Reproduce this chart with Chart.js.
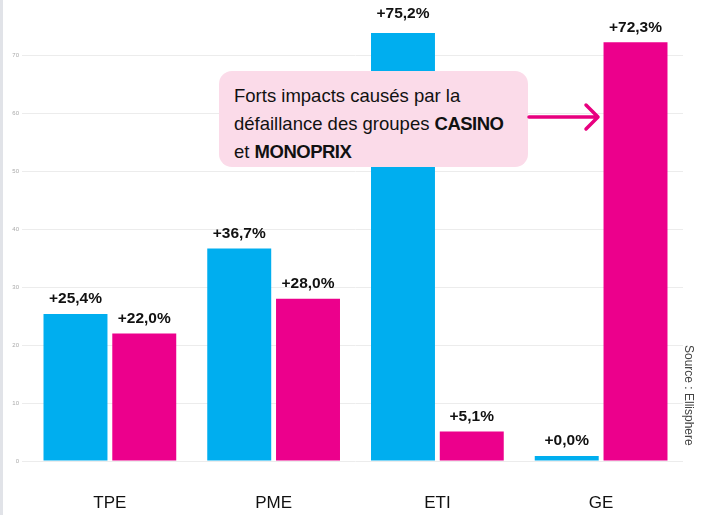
<!DOCTYPE html>
<html><head><meta charset="utf-8">
<script src="https://cdn.jsdelivr.net/npm/chart.js@4"></script>
<style>
html,body{margin:0;padding:0;background:#fff;}
#wrap{position:relative;width:705px;height:515px;overflow:hidden;}
#strip{position:absolute;left:0;top:0;width:3px;height:515px;background:#e1e3e8;}
#note{position:absolute;left:219px;top:71px;width:309px;height:96px;box-sizing:border-box;background:#fbdbe9;border-radius:13px;padding:11px 0 0 15px;font-family:"Liberation Sans",Arial,sans-serif;font-size:18.5px;line-height:28px;color:#111;}
#note b{font-weight:bold;letter-spacing:-0.5px;}
#src{position:absolute;left:682px;top:345px;writing-mode:vertical-rl;font-family:"Liberation Sans",Arial,sans-serif;font-size:12px;color:#444;}
#arrow{position:absolute;left:526px;top:100px;}
</style></head>
<body>
<div id="wrap">
<canvas id="c" width="705" height="515"></canvas>
<div id="strip"></div>
<div id="note">Forts impacts causés par la<br>défaillance des groupes <b>CASINO</b><br>et <b>MONOPRIX</b></div>
<svg id="arrow" width="80" height="36"><path d="M3 17 H71 M60 5 L72 17 L60 29" fill="none" stroke="#e8007f" stroke-width="3.5" stroke-linecap="round" stroke-linejoin="round"/></svg>
<div id="src">Source : Ellisphere</div>
</div>
<script>
const categories = ["TPE", "PME", "ETI", "GE"];
const seriesA = [25.4, 36.7, 75.2, 0.0];
const seriesB = [22.0, 28.0, 5.1, 72.3];
const yTicks = [0, 10, 20, 30, 40, 50, 60, 70];

function fmt(v){ return "+" + v.toFixed(1).replace(".", ",") + "%"; }

const labelPlugin = {
  id: "valueLabels",
  afterDatasetsDraw(chart){
    const ctx = chart.ctx;
    ctx.save();
    ctx.font = "bold 15.5px 'Liberation Sans', Arial, sans-serif";
    ctx.fillStyle = "#111";
    ctx.textAlign = "center";
    ctx.textBaseline = "middle";
    chart.data.datasets.forEach((ds, di) => {
      chart.getDatasetMeta(di).data.forEach((bar, i) => {
        const top = Math.max(Math.min(bar.y, bar.base), chart.chartArea.top);
        const extra = bar.y < chart.chartArea.top ? 4 : 0;
        ctx.fillText(fmt(ds.data[i]), bar.x, top - 15 - extra);
      });
    });
    ctx.restore();
  }
};

new Chart(document.getElementById("c"), {
  type: "bar",
  data: {
    labels: categories,
    datasets: [
      { data: seriesA, backgroundColor: "#00aeef", minBarLength: 5 },
      { data: seriesB, backgroundColor: "#ec008c", minBarLength: 5 }
    ]
  },
  options: {
    responsive: false,
    animation: false,
    layout: { padding: { left: 4, right: 22, top: 33, bottom: 0 } },
    datasets: { bar: { categoryPercentage: 0.84, barPercentage: 0.93 } },
    plugins: { legend: { display: false }, tooltip: { enabled: false } },
    scales: {
      x: {
        grid: { display: false, drawTicks: false },
        border: { display: false },
        afterFit(scale){ scale.height = 54; },
        ticks: { padding: 32, color: "#111", font: { family: "'Liberation Sans', Arial, sans-serif", size: 17 } }
      },
      y: {
        min: 0, max: 73.9,
        afterBuildTicks(scale){ scale.ticks = yTicks.map(v => ({ value: v })); },
        afterFit(scale){ scale.width = 24; },
        grid: { color: "#ececec", tickLength: 6, drawOnChartArea: true },
        border: { display: false },
        ticks: { padding: 3, color: "#aaa", font: { size: 6 } }
      }
    }
  },
  plugins: [labelPlugin]
});
</script>
</body></html>
